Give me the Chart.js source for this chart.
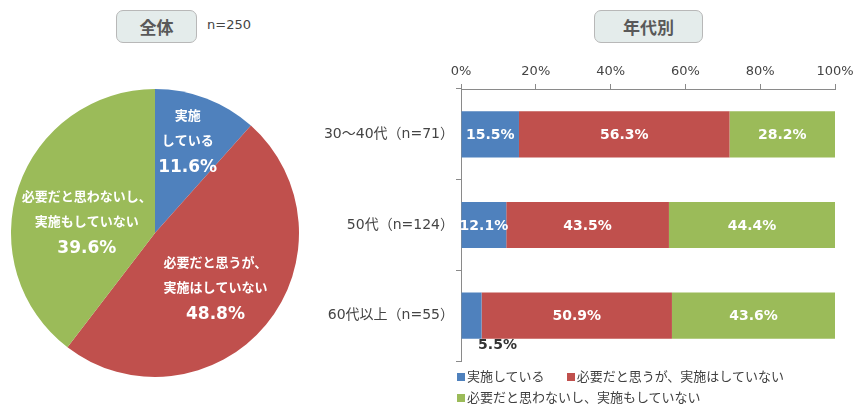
<!DOCTYPE html>
<html>
<head>
<meta charset="utf-8">
<script src="https://cdn.jsdelivr.net/npm/chart.js@4/dist/chart.umd.min.js"></script>
<style>
  body { margin: 0; background: #fff; }
  #wrap { position: relative; width: 854px; height: 405px; overflow: hidden;
          font-family: "DejaVu Sans", "Noto Sans CJK JP", sans-serif; }
  .ttl { position: absolute; top: 10px; height: 31px; line-height: 31px; text-align: center;
         background: #e4eceb; border: 1.5px solid #b8b8b8; border-radius: 7px;
         font-family: "Noto Sans CJK JP", sans-serif; font-weight: bold; font-size: 17px; color: #595959; }
  #n { position: absolute; left: 207px; top: 17px; font-size: 13px; color: #444; }
  canvas { position: absolute; }
  #legend { position: absolute; left: 457px; top: 365px; width: 390px; font-size: 13px; color: #404040;
            font-family: "Noto Sans CJK JP", sans-serif; }
  .li { display: inline-block; margin-right: 22px; height: 21px; line-height: 21px; white-space: nowrap; }
  .sq { display: inline-block; width: 8px; height: 8px; margin-right: 2px; vertical-align: 0px; }
</style>
</head>
<body>
<div id="wrap">
  <div class="ttl" style="left:116px;width:79px;">全体</div>
  <div id="n">n=250</div>
  <div class="ttl" style="left:594px;width:107px;">年代別</div>
  <canvas id="pie" width="310" height="306" style="left:0;top:80px;"></canvas>
  <canvas id="bar" width="554" height="318" style="left:300px;top:50px;"></canvas>
  <div id="legend"></div>
</div>
<script>
// data
const seriesNames = ['実施している', '必要だと思うが、実施はしていない', '必要だと思わないし、実施もしていない'];
const colors = ['#4f81bd', '#c0504d', '#9bbb59'];

const pieValues = [11.6, 48.8, 39.6];
const pieText = [['実施', 'している'], ['必要だと思うが、', '実施はしていない'], ['必要だと思わないし、', '実施もしていない']];

const ageGroups = ['30～40代（n=71）', '50代（n=124）', '60代以上（n=55）'];
const doing = [15.5, 12.1, 5.5];
const needNotDoing = [56.3, 43.5, 50.9];
const noNeedNotDoing = [28.2, 44.4, 43.6];
const xTicks = [0, 20, 40, 60, 80, 100];

const FONT = '"DejaVu Sans", "Noto Sans CJK JP", sans-serif';
const JFONT = '"Noto Sans CJK JP", sans-serif';

// where each pie label block sits, relative to the slice's tooltip point
const pieShift = [[7, -25], [5, 9], [0, 12]];

const pieLabels = {
  id: 'pieLabels',
  afterDatasetsDraw(chart) {
    const ctx = chart.ctx;
    const arcs = chart.getDatasetMeta(0).data;
    ctx.save();
    ctx.fillStyle = '#fff';
    ctx.textAlign = 'center';
    ctx.textBaseline = 'middle';
    arcs.forEach((arc, i) => {
      const p = arc.tooltipPosition();
      const x = p.x + pieShift[i][0], y = p.y + pieShift[i][1];
      ctx.font = 'bold 13px ' + JFONT;
      ctx.fillText(pieText[i][0], x, y - 26);
      ctx.fillText(pieText[i][1], x, y - 1);
      ctx.font = 'bold 17px ' + FONT;
      ctx.fillText(pieValues[i].toFixed(1) + '%', x, y + 27);
    });
    ctx.restore();
  }
};

new Chart(document.getElementById('pie'), {
  type: 'pie',
  data: {
    labels: seriesNames,
    datasets: [{ data: pieValues, backgroundColor: colors, borderWidth: 0 }]
  },
  options: {
    responsive: false,
    animation: false,
    devicePixelRatio: 1,
    layout: { padding: { left: 11, right: 11, top: 9, bottom: 9 } },
    plugins: { legend: { display: false }, tooltip: { enabled: false } }
  },
  plugins: [pieLabels]
});

const barLabels = {
  id: 'barLabels',
  afterDatasetsDraw(chart) {
    const ctx = chart.ctx;
    ctx.save();
    ctx.textAlign = 'center';
    ctx.textBaseline = 'middle';
    ctx.font = 'bold 14px ' + FONT;
    chart.data.datasets.forEach((ds, di) => {
      chart.getDatasetMeta(di).data.forEach((bar, i) => {
        const v = ds.data[i];
        const txt = v.toFixed(1) + '%';
        if (v < 10) {
          ctx.fillStyle = '#333';
          ctx.fillText(txt, (bar.x + bar.base) / 2 + 26, bar.y + bar.height / 2 + 7);
        } else {
          ctx.fillStyle = '#fff';
          ctx.fillText(txt, (bar.x + bar.base) / 2, bar.y + 1);
        }
      });
    });
    ctx.restore();
  }
};

const seriesData = [doing, needNotDoing, noNeedNotDoing];
const noPad = (s) => { s.paddingLeft = 0; s.paddingRight = 0; s.paddingTop = 0; s.paddingBottom = 0; };

new Chart(document.getElementById('bar'), {
  type: 'bar',
  data: {
    labels: ageGroups,
    datasets: seriesData.map((d, i) => ({
      label: seriesNames[i],
      data: d,
      backgroundColor: colors[i],
      borderWidth: 0,
      barPercentage: 0.51,
      categoryPercentage: 1
    }))
  },
  options: {
    indexAxis: 'y',
    responsive: false,
    animation: false,
    devicePixelRatio: 1,
    layout: { padding: { left: 0, right: 19, top: 0, bottom: 7 } },
    scales: {
      x: {
        position: 'top',
        stacked: true,
        min: 0,
        max: 100,
        afterBuildTicks: (s) => { s.ticks = xTicks.map(v => ({ value: v })); },
        afterFit: (s) => { s.height = 39; noPad(s); },
        ticks: { callback: v => v + '%', color: '#444', font: { family: FONT, size: 13 }, padding: 5, maxRotation: 0 },
        grid: { drawOnChartArea: false, tickLength: 5, color: '#8a8a8a' },
        border: { color: '#8a8a8a' }
      },
      y: {
        stacked: true,
        afterFit: (s) => { s.width = 161; noPad(s); },
        ticks: { color: '#444', font: { family: FONT, size: 14 }, padding: 2 },
        grid: { drawOnChartArea: false, offset: true, tickLength: 5, color: '#8a8a8a' },
        border: { color: '#8a8a8a' }
      }
    },
    plugins: { legend: { display: false }, tooltip: { enabled: false } }
  },
  plugins: [barLabels]
});

// legend
const legend = document.getElementById('legend');
seriesNames.forEach((name, i) => {
  const item = document.createElement('span');
  item.className = 'li';
  item.innerHTML = '<span class="sq" style="background:' + colors[i] + '"></span>' + name;
  legend.appendChild(item);
  if (i === 1) legend.appendChild(document.createElement('br'));
});
</script>
</body>
</html>
